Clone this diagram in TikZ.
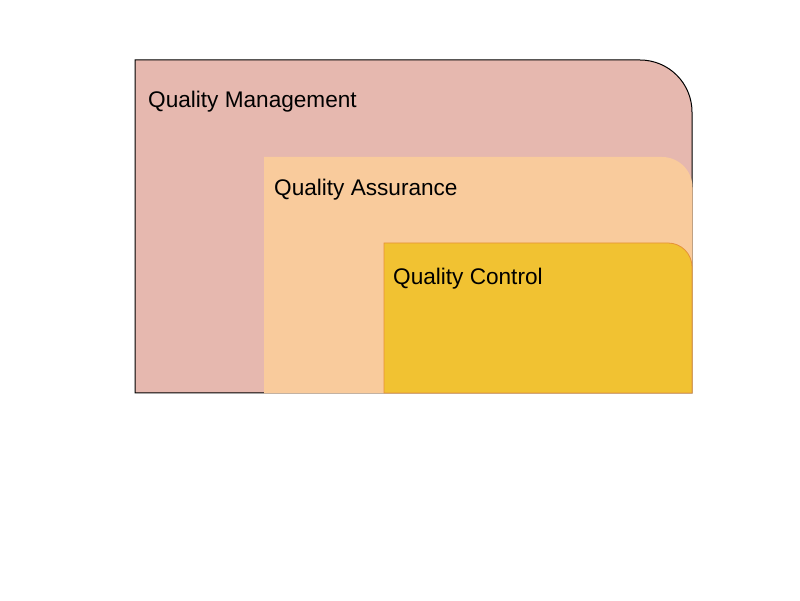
\documentclass[tikz,border=0pt]{standalone}
\usepackage{fontspec}
\setmainfont{Liberation Sans}
\usepackage{tikz}
\usetikzlibrary{positioning}

\definecolor{qmfill}{HTML}{E6B8AF}
\definecolor{qafill}{HTML}{F9CB9C}
\definecolor{qcfill}{HTML}{F1C232}
\definecolor{qcline}{HTML}{E69138}

\tikzset{
  lbl/.style={anchor=base west,inner sep=0pt,font=\fontsize{22.6}{27}\selectfont},
}

\begin{document}
\begin{tikzpicture}[x=1pt,y=1pt]
\useasboundingbox (0,0) rectangle (800,600);
\path[fill=qmfill,draw=black,line width=1pt](135,207)--(135,540)--(640,540) arc[start angle=90,end angle=0,radius=52]--(692,207)--cycle;
\path[fill=qafill](264,206.5)--(264,443)--(662,443) arc[start angle=90,end angle=0,radius=30.5]--(692.6,206.5)--cycle;
\path[fill=qcfill,draw=qcline,line width=0.8pt](384,207)--(384,357)--(668,357) arc[start angle=90,end angle=0,radius=24]--(692,207)--cycle;
\node[lbl](qm) at (148,492){Quality Management};
\node[lbl](qa) at (274,404){Quality Assurance};
\node[lbl](qc) at (393,315){Quality Control};
\end{tikzpicture}
\end{document}
